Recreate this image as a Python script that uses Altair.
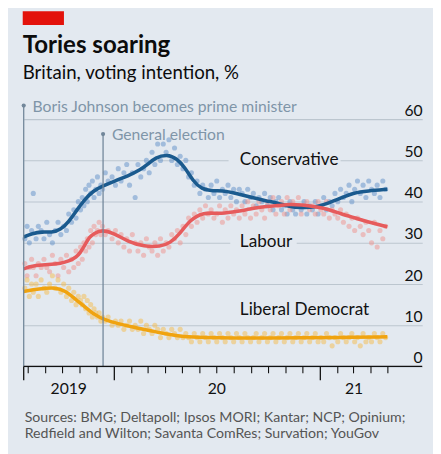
import altair as alt
import pandas as pd

FONT = "Lato"
BG = "#e3e9f0"

# ---------------- data ----------------
poll_dates = [
    "2019-07-26", "2019-07-30", "2019-08-03", "2019-08-07", "2019-08-10", "2019-08-15", "2019-08-19",
    "2019-08-24", "2019-08-29", "2019-09-03", "2019-09-08", "2019-09-13", "2019-09-18", "2019-09-23",
    "2019-09-28", "2019-10-03", "2019-10-08", "2019-10-12", "2019-10-17", "2019-10-21", "2019-10-25",
    "2019-10-29", "2019-11-02", "2019-11-05", "2019-11-08", "2019-11-11", "2019-11-14", "2019-11-17",
    "2019-11-20", "2019-11-23", "2019-11-26", "2019-11-29", "2019-12-02", "2019-12-05", "2019-12-08",
    "2019-12-11", "2019-12-16", "2019-12-21", "2019-12-28",
    "2020-01-03", "2020-01-08", "2020-01-13", "2020-01-18", "2020-01-23", "2020-01-28", "2020-02-02",
    "2020-02-07", "2020-02-12", "2020-02-17", "2020-02-22", "2020-02-27", "2020-03-03", "2020-03-08",
    "2020-03-13", "2020-03-18", "2020-03-23", "2020-03-28", "2020-04-02", "2020-04-07", "2020-04-12",
    "2020-04-17", "2020-04-22", "2020-04-27", "2020-05-02", "2020-05-07", "2020-05-12", "2020-05-17",
    "2020-05-22", "2020-05-27", "2020-06-01", "2020-06-06", "2020-06-11", "2020-06-16", "2020-06-21",
    "2020-06-26", "2020-07-01", "2020-07-06", "2020-07-11", "2020-07-16", "2020-07-21", "2020-07-26",
    "2020-07-31", "2020-08-05", "2020-08-10", "2020-08-15", "2020-08-20", "2020-08-25", "2020-08-30",
    "2020-09-04", "2020-09-09", "2020-09-14", "2020-09-19", "2020-09-24", "2020-09-29", "2020-10-04",
    "2020-10-09", "2020-10-14", "2020-10-19", "2020-10-24", "2020-10-29", "2020-11-03", "2020-11-08",
    "2020-11-13", "2020-11-18", "2020-11-23", "2020-11-28", "2020-12-03", "2020-12-08", "2020-12-13",
    "2020-12-18", "2020-12-23", "2020-12-28",
    "2021-01-02", "2021-01-07", "2021-01-12", "2021-01-17", "2021-01-22", "2021-01-27", "2021-02-01",
    "2021-02-06", "2021-02-11", "2021-02-16", "2021-02-21", "2021-02-26", "2021-03-03", "2021-03-08",
    "2021-03-13", "2021-03-18", "2021-03-23", "2021-03-28", "2021-04-02", "2021-04-07", "2021-04-12",
    "2021-04-17", "2021-04-22", "2021-04-27",
]
con_polls = [
    31, 34, 30, 33, 42, 31, 34, 33, 31, 35, 32, 30, 33, 35, 32, 34, 33, 37, 35, 38, 36,
    40, 38, 41, 39, 43, 40, 44, 42, 45, 41, 43, 46, 42, 44, 43, 47, 45, 46,
    44, 48, 45, 47, 49, 44, 47, 41, 49, 46, 48, 50, 47, 52, 49, 54, 50, 54, 52, 55, 50,
    53, 49, 51, 48, 50, 46, 47, 44, 45, 42, 44, 43, 41, 44, 42, 45, 41, 43, 42, 44, 41,
    43, 40, 43, 42, 40, 43, 41, 42, 39, 41, 40, 42, 39, 41, 38, 40, 41, 38, 39, 37, 40,
    38, 37, 39, 38, 40, 37, 39, 38, 40, 37,
    39, 41, 38, 40, 39, 42, 40, 43, 41, 42, 44, 40, 43, 45, 42, 44, 41, 45, 43, 42, 44,
    41, 45, 43,
]
lab_polls = [
    25, 22, 24, 26, 24, 22, 25, 24, 26, 24, 23, 27, 25, 22, 26, 24, 27, 23, 26, 24, 28,
    25, 29, 26, 30, 28, 31, 29, 33, 30, 34, 32, 33, 35, 32, 34, 32, 33, 31,
    33, 30, 32, 29, 31, 28, 32, 30, 28, 30, 27, 31, 29, 28, 30, 27, 31, 28, 30, 29, 32,
    31, 33, 30, 34, 32, 36, 34, 37, 35, 38, 36, 39, 37, 38, 36, 37, 39, 35, 38, 36, 39,
    37, 38, 36, 39, 37, 40, 36, 39, 37, 40, 38, 36, 40, 38, 41, 37, 39, 40, 37, 41, 38,
    40, 39, 41, 37, 39, 40, 38, 39, 37, 40,
    38, 37, 40, 36, 38, 37, 36, 38, 35, 37, 34, 36, 33, 36, 34, 32, 35, 33, 30, 35, 29,
    33, 31, 34,
]
ld_polls = [
    19, 21, 17, 20, 18, 20, 17, 21, 19, 18, 20, 22, 19, 21, 18, 20, 17, 19, 16, 18, 15,
    17, 16, 15, 17, 14, 16, 13, 15, 12, 14, 13, 12, 13, 11, 12, 11, 12, 10,
    11, 10, 11, 9, 10, 11, 9, 10, 9, 11, 8, 10, 9, 8, 10, 9, 7, 9, 8, 7, 9,
    8, 7, 9, 7, 8, 7, 6, 8, 7, 6, 8, 7, 6, 8, 7, 6, 8, 7, 6, 8, 7,
    6, 8, 7, 6, 8, 7, 6, 7, 8, 6, 7, 8, 6, 7, 8, 6, 7, 8, 6, 7, 8,
    6, 7, 8, 6, 7, 8, 6, 7, 8, 6,
    7, 6, 8, 7, 5, 7, 6, 8, 7, 6, 7, 8, 6, 7, 5, 8, 6, 7, 6, 8, 7,
    6, 8, 7,
]

con_trend_dates = [
    "2019-07-24", "2019-08-08", "2019-08-26", "2019-09-12", "2019-09-27", "2019-10-12", "2019-10-26",
    "2019-11-10", "2019-11-24", "2019-12-12", "2020-01-01", "2020-01-25", "2020-02-17", "2020-02-29",
    "2020-03-14", "2020-04-04", "2020-04-21", "2020-05-06", "2020-05-20", "2020-06-04", "2020-06-24",
    "2020-07-18", "2020-08-10", "2020-09-02", "2020-09-26", "2020-10-19", "2020-11-06", "2020-11-29",
    "2020-12-22", "2021-01-15", "2021-02-07", "2021-03-02", "2021-03-26", "2021-04-30",
]
con_trend = [
    31.4, 32.3, 32.7, 32.5, 33.1, 35.1, 37.9, 40.6, 42.6, 43.8, 45.0, 46.2, 47.8, 49.0,
    50.7, 51.5, 50.5, 48.2, 45.0, 43.0, 42.6, 42.6, 41.8, 41.0, 40.2, 39.6, 38.8, 38.5,
    38.6, 39.6, 40.9, 42.2, 42.6, 43.0,
]
lab_trend_dates = [
    "2019-07-24", "2019-08-08", "2019-08-26", "2019-09-12", "2019-09-27", "2019-10-12", "2019-10-26",
    "2019-11-01", "2019-11-10", "2019-11-18", "2019-11-27", "2019-12-09", "2020-01-01", "2020-01-25",
    "2020-02-23", "2020-03-23", "2020-04-09", "2020-04-27", "2020-05-14", "2020-06-07", "2020-07-06",
    "2020-07-29", "2020-08-22", "2020-09-20", "2020-10-19", "2020-11-06", "2020-11-29", "2020-12-22",
    "2021-01-15", "2021-02-07", "2021-03-02", "2021-03-26", "2021-04-30",
]
lab_trend = [
    23.7, 24.4, 24.6, 24.8, 25.0, 25.5, 26.6, 27.5, 29.5, 31.5, 32.3, 33.2, 32.3, 30.3,
    29.1, 29.1, 29.9, 32.3, 35.5, 37.5, 37.0, 37.5, 38.0, 38.8, 39.0, 39.4, 39.2, 38.8,
    38.2, 37.0, 36.1, 35.1, 33.9,
]
ld_trend_dates = [
    "2019-07-24", "2019-08-20", "2019-09-18", "2019-10-06", "2019-10-23", "2019-11-10", "2019-11-27",
    "2019-12-15", "2020-01-07", "2020-02-05", "2020-03-05", "2020-04-04", "2020-05-03", "2020-06-07",
    "2020-08-01", "2020-10-01", "2020-12-01", "2021-02-01", "2021-04-30",
]
ld_trend = [
    18.2, 18.8, 19.2, 18.4, 16.4, 14.5, 12.5, 11.3, 10.4, 9.5, 8.7, 7.8, 7.2, 7.0,
    6.9, 6.9, 7.0, 7.0, 7.2,
]

parties = ["Conservative", "Labour", "Liberal Democrat"]
line_colors = ["#1a5a8e", "#e65b5c", "#f0a30f"]
dot_colors = ["#5f90c8", "#f0918b", "#f5bb4a"]

month_ticks = [
    "2019-08-01", "2019-09-01", "2019-10-01", "2019-11-01", "2019-12-01",
    "2020-02-01", "2020-03-01", "2020-04-01", "2020-05-01", "2020-06-01", "2020-07-01",
    "2020-08-01", "2020-09-01", "2020-10-01", "2020-11-01", "2020-12-01",
    "2021-02-01", "2021-03-01", "2021-04-01", "2021-05-01",
]
year_ticks = ["2019-07-24", "2020-01-01", "2021-01-01"]
year_labels = ["2019", "20", "21"]
year_label_dates = ["2019-10-12", "2020-07-01", "2021-03-02"]

events = ["Boris Johnson becomes prime minister", "General election"]
event_dates = ["2019-07-24", "2019-12-12"]
event_tops = [63.3, 56.4]

label_dates = ["2020-08-11", "2020-08-11", "2020-08-11"]
label_values = [50.2, 30.3, 13.6]
gap_starts = ["2020-07-22", "2020-07-25"]
gap_ends = ["2021-02-06", "2020-11-20"]
gap_values = [50, 30]

title = "Tories soaring"
subtitle = "Britain, voting intention, %"
sources = [
    "Sources: BMG; Deltapoll; Ipsos MORI; Kantar; NCP; Opinium;",
    "Redfield and Wilton; Savanta ComRes; Survation; YouGov",
]

# ---------------- tables ----------------
dots = pd.concat([
    pd.DataFrame({"date": poll_dates, "value": v, "party": p})
    for v, p in zip([con_polls, lab_polls, ld_polls], parties)
])
trends = pd.concat([
    pd.DataFrame({"date": d, "value": v, "party": p})
    for d, v, p in zip([con_trend_dates, lab_trend_dates, ld_trend_dates],
                       [con_trend, lab_trend, ld_trend], parties)
])
ev = pd.DataFrame({"date": event_dates, "top": event_tops, "text": events})
labs = pd.DataFrame({"date": label_dates, "value": label_values, "text": parties})
gaps = pd.DataFrame({"start": gap_starts, "end": gap_ends,
                     "lo": [g - 1.3 for g in gap_values], "hi": [g + 1.3 for g in gap_values]})

xscale = alt.Scale(domain=[alt.DateTime(year=2019, month=7, date=24, utc=True),
                           alt.DateTime(year=2021, month=7, date=1, utc=True)])
yscale = alt.Scale(domain=[0, 63.6], nice=False)
yaxis = alt.Axis(orient="right", values=[0, 10, 20, 30, 40, 50, 60], grid=True,
                 gridColor="#bcc6cf", gridWidth=1.1, ticks=False, tickSize=0,
                 domain=False, labelAlign="right", labelBaseline="alphabetic",
                 labelPadding=0, labelOffset=-4, labelFont=FONT, labelFontSize=16,
                 labelColor="#111111", title=None)

X = lambda f: alt.X(f, type="temporal", scale=xscale, axis=None)
Y = lambda f: alt.Y(f, type="quantitative", scale=yscale, axis=yaxis)

dot_layer = alt.Chart(dots).mark_circle(size=27, opacity=0.5).encode(
    x=X("date"), y=Y("value"),
    color=alt.Color("party:N", scale=alt.Scale(domain=parties, range=dot_colors), legend=None),
)

gap_layer = alt.Chart(gaps).mark_rect(color=BG).encode(
    x=X("start"), x2="end:T", y=Y("lo"), y2="hi:Q")

line_layer = alt.Chart(trends).mark_line(strokeWidth=3.6, interpolate="basis").encode(
    x=X("date"), y=Y("value"),
    stroke=alt.Stroke("party:N", scale=alt.Scale(domain=parties, range=line_colors), legend=None),
)

ev_rule = alt.Chart(ev).mark_rule(color="#72879a", strokeWidth=1.3).encode(
    x=X("date"), y=Y("top"), y2=alt.datum(0))
ev_dot = alt.Chart(ev).mark_circle(color="#72879a", size=18, opacity=1).encode(
    x=X("date"), y=Y("top"))
ev_text = alt.Chart(ev).mark_text(align="left", baseline="middle", dx=9, dy=1, font=FONT,
                                  fontSize=16, color="#7f95a8").encode(
    x=X("date"), y=Y("top"), text="text:N")

lab_text = alt.Chart(labs).mark_text(align="left", baseline="middle", font=FONT, fontSize=17.5,
                                     color="#111111").encode(
    x=X("date"), y=Y("value"), text="text:N")

zero_rule = alt.Chart(pd.DataFrame({"v": [0]})).mark_rule(color="#111111", strokeWidth=1.3).encode(
    y=Y("v"))

tick_short = alt.Chart(pd.DataFrame({"date": month_ticks})).mark_rule(
    color="#111111", strokeWidth=1.1).encode(x=X("date"), y=alt.value(267), y2=alt.value(274))
tick_long = alt.Chart(pd.DataFrame({"date": year_ticks})).mark_rule(
    color="#111111", strokeWidth=1.3).encode(x=X("date"), y=alt.value(267), y2=alt.value(281))
year_text = alt.Chart(pd.DataFrame({"date": year_label_dates, "t": year_labels})).mark_text(
    align="center", baseline="alphabetic", font=FONT, fontSize=16, color="#111111").encode(
    x=X("date"), y=alt.value(295), text="t:N")

red_bar = alt.Chart(pd.DataFrame({"c": [1]})).mark_rect(color="#e3120b").encode(
    x=alt.value(-1), x2=alt.value(41), y=alt.value(-95), y2=alt.value(-81))
title_text = alt.Chart(pd.DataFrame({"t": [title]})).mark_text(
    align="left", baseline="alphabetic", font=FONT, fontSize=24.5, fontWeight="bold",
    color="#0c0c0c").encode(x=alt.value(-1), y=alt.value(-52), text="t:N")
subtitle_text = alt.Chart(pd.DataFrame({"t": [subtitle]})).mark_text(
    align="left", baseline="alphabetic", font=FONT, fontSize=19,
    color="#0c0c0c").encode(x=alt.value(-1), y=alt.value(-26), text="t:N")
source_text = alt.Chart(pd.DataFrame({"t": sources, "y": [324, 340]})).mark_text(
    align="left", baseline="alphabetic", font=FONT, fontSize=14.4,
    color="#555555").encode(x=alt.value(1), y=alt.Y("y:Q", scale=None, axis=None), text="t:N")

chart = alt.layer(
    dot_layer, gap_layer, line_layer, ev_rule, ev_dot, ev_text, lab_text,
    zero_rule, tick_short, tick_long, year_text,
    red_bar, title_text, subtitle_text, source_text,
).resolve_scale(color="independent").properties(
    width=406, height=267,
    padding={"left": 16, "top": 94, "right": 11, "bottom": 85},
    autosize=alt.AutoSizeParams(type="none"),
    background=BG,
).configure_view(stroke=None)

chart.save("out.html", embed_options={"renderer": "svg", "actions": False})
